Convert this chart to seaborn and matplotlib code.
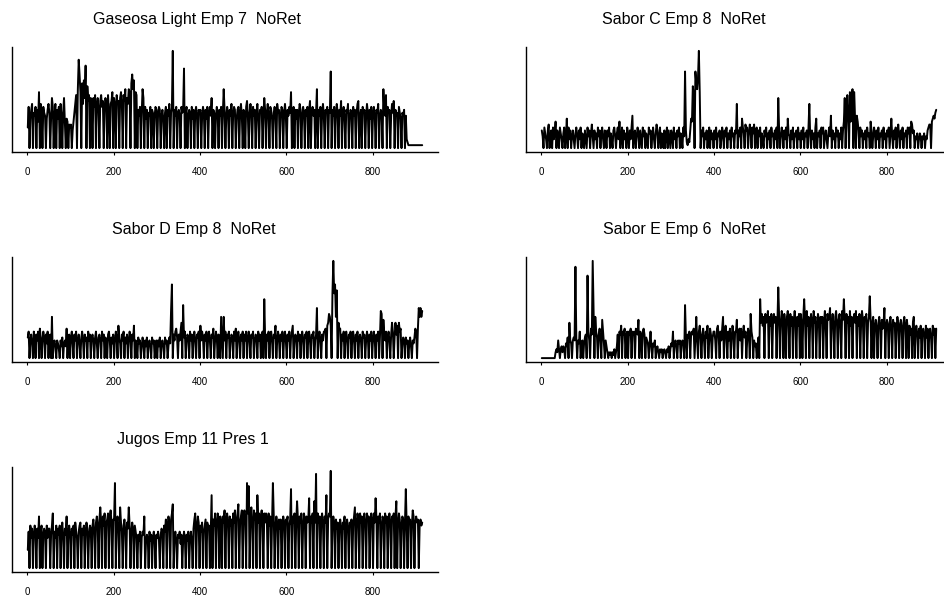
import numpy as np
import pandas as pd
import matplotlib
matplotlib.use("Agg")
import matplotlib.pyplot as plt
import seaborn as sns

# ---------------- data (one character per 2-day sample, base-36 level) ----------------
titles = ["Gaseosa Light Emp 7  NoRet", "Sabor C Emp 8  NoRet",
          "Sabor D Emp 8  NoRet", "Sabor E Emp 6  NoRet",
          "Jugos Emp 11 Pres 1"]

gaseosa_light = [
    "7e0adf0cbe0d9j0fb0ecb0adf", "c0ahe0bf0dae0fb0ch90a9087", "8069cfi0kupj0mfnhs0lgi0he",
    "0hei0fhd0gieg0ehf0ic0fgj0", "hf0ifg0hjf0igk0hfkj0mpkn0", "ji0dbe0ckh0ead0cbe0dc0bed",
    "0ced0bda0ce0dbf0cex0dbe0c", "db0ecdr0ce0bdc0ead0ceb0dc", "d0bec0dae0cebh0dc0bec0dbe",
    "0ckd0bec0dbf0ced0ade0cfb0", "dc0egb0cfc0ebd0cfa0dce0bh", "d0cfb0eda0ceb0fcd0bed0cfb",
    "0dbecj0ce0dad0cfd0bec0dbe", "0dg0cebd0ck0dbe0cfb0dce0d", "cq0dbe0cfc0dbg0cea0dcf0bd",
    "c0ebd0cfg0bd0ecd0bfc0dae0", "ceb0dcf0bdc0kdbi0ecd0bfcg", "0dbc0eca0cbd0b32111111111",
    "11111111",
]

sabor_c = [
    "6407530680460735906407530", "5704a07360463057406370540", "6307460584063507460573064",
    "0647053067405739047063507", "40637b0560475063074605307", "5604730586047053060470630",
    "6407350647053074q621326a9", "li0qmkoxj0647053604706350", "6370546037506470536074506",
    "5f06470a75086705860758067", "064705306470536074506370h", "6047506370a54063705460735",
    "0637054607f4063507a054607", "5704630574b06350746053706", "9h0aib0j9hk0ja0b960746053",
    "6074509604750637054607350", "64705a4063705840637054607", "5709856043503540435043678",
    "809abacd",
]

sabor_d = [
    "79068509708690a7069708590", "780e0564065306470564a0780", "7950869068507960867096807",
    "8607950786096807508960758", "06970b75086907580697086b0", "6407560475064705640756046",
    "0647056407560475gp0869a70", "869c0i7906870968079608790", "b69708690796087a06970860e",
    "70e6908790687096a07960869", "086907960879068709680790k", "708690796087b069708690796",
    "0869079b06870968079608790", "7960879068h079608699a0bcf", "eb0mxmpen0caa086907960879",
    "0796086907860978069708690", "796086907gf0d869079608c90", "7c8b0c9a0576075605740657a",
    "90aheheg",
]

sabor_e = [
    "0000000000000000232630342", "4305470c650676v7065904605", "780s960a8xg0e9708a60d9506",
    "42021202130248098b098a089", "098a09890a98d09809a807650", "5940546034203230232032403",
    "5490564065605650i70879089", "8a07e609b708a6097b06a8079", "960ab7096ae08b7096a07b809",
    "9d07a6a08b7906a80f9706450", "470kcfbe0fcdg0ebf0dfce0co", "e0cgd0fb0egc0fbe0dgc0ebf0",
    "fc0ekd0gbe0cfd0gce0bfd0ec", "e0cgb0fdeh0cfb0egc0dfb0gd", "kd0fce0gbe0dfcg0ebf0cgd0e",
    "df0celd0ce0bda0ceb0dach0b", "db0cea0dbc0aec0bda0ceb0da", "0b8a0ce09b80a7b09a80b7a09",
    "a70b8a0a",
]

jugos = [
    "6c0ead0bec0dah0ce0bdc0ead", "d0bei0cae0dbe0cfa0dbh0ceb", "0dbe0fca0cef0dbe0cfd0bed0",
    "egc0fhe0gkf0hei0fgi0hjf0g", "gs0ehd0kfc0egc0fdke0cfd0e", "ca0b9c0acbh09ba0c9b0ac90b",
    "ac90bdc0ecg0ehf0gil0ac90b", "ac8b09ca0b9c0ac90dgi0ehf0", "ecf0ceg0fde0co0gei0fig0hf",
    "0hfj0gif0heg0ifj0gil0fhj0", "hjg0sir0gkf0jgi0ofi0hjf0i", "fig0ieh0fsh0ehf0gdg0ehf0g",
    "fh0egq0hfi0fmg0hfi0eig0hf", "gn0hfi0mfv0ifh0gif0hfo0gi", "hw0ehf0gdf0egd0fdh0egd0fe",
    "g0ehk0fig0ifh0gif0igh0fig", "0ifng0hfi0ehg0ifh0gif0hgi", "0hm0fig0ehg0fqe0hfg0ejh0f",
    "hfg0egef",
]

xtick_values = [0, 200, 400, 600, 800]
xtick_labels = ["0", "200", "400", "600", "800"]


def decode(chunks):
    return np.array([int(c, 36) for c in "".join(chunks)], dtype=float)


series = [gaseosa_light, sabor_c, sabor_d, sabor_e, jugos]

# ---------------- layout (pixels) ----------------
W, H = 944, 600
box_px = [(12, 47), (526, 47), (12, 257), (526, 257), (12, 467)]
box_w, box_h = 426, 105
title_px = [(197, 24), (684, 24), (194, 234), (684, 234), (193, 444)]

sns.set_style("white")
plt.rcParams['font.family'] = ['Liberation Sans', 'DejaVu Sans']

fig = plt.figure(figsize=(W / 100, H / 100), dpi=100)

for i, chunks in enumerate(series):
    y = decode(chunks)
    x = 1 + 2 * np.arange(len(y))
    df = pd.DataFrame({"day": x, "value": y})
    left, top = box_px[i]
    ax = fig.add_axes([left / W, 1 - (top + box_h) / H, box_w / W, box_h / H])
    sns.lineplot(data=df, x="day", y="value", ax=ax, color="black",
                 linewidth=1.4, estimator=None)
    n = x[-1]
    pad = 0.04 * (n - 1)
    ax.set_xlim(1 - pad, n + pad)
    ymax = y.max()
    ax.set_ylim(-0.04 * ymax, 1.04 * ymax)
    ax.set_xticks(xtick_values)
    ax.set_xticklabels(xtick_labels, fontsize=7, color="black")
    ax.set_yticks([])
    ax.set_xlabel("")
    ax.set_ylabel("")
    for s in ["top", "right"]:
        ax.spines[s].set_visible(False)
    for s in ["left", "bottom"]:
        ax.spines[s].set_linewidth(1.0)
        ax.spines[s].set_color("black")
    ax.tick_params(axis="x", bottom=True, length=2.5, width=0.8, pad=8.5,
                   direction="out", colors="black")
    tx, ty = title_px[i]
    fig.text(tx / W, 1 - ty / H, titles[i], ha="center", va="baseline",
             fontsize=11.5, color="black")

fig.savefig("out.png", dpi=100)
